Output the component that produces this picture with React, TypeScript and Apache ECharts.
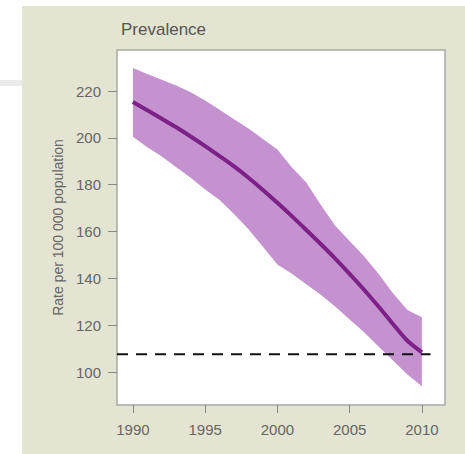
import React, { useEffect, useRef } from "react";
import * as echarts from "echarts";

// Prevalence per 100 000 population, 1990–2010
const years = [
  1990, 1991, 1992, 1993, 1994, 1995, 1996, 1997, 1998, 1999, 2000,
  2001, 2002, 2003, 2004, 2005, 2006, 2007, 2008, 2009, 2010,
];
const median = [
  215.3, 211.8, 208.2, 204.5, 200.6, 196.5, 192.2, 187.8, 183, 177.8, 172.3,
  166.6, 160.7, 154.7, 148.5, 142, 135.2, 128, 120.6, 113.4, 108.5,
];
const upper = [
  229.8, 227.3, 224.8, 222.3, 219.5, 216, 212, 208, 204, 199.5, 195,
  187.5, 181, 171.5, 162.5, 156, 149.5, 142, 133.7, 126.5, 123.4,
];
const lower = [
  200.5, 196, 192, 187.5, 183, 178, 173.5, 167.5, 161, 153.5, 146,
  142, 137.5, 133, 128, 122.5, 117, 111, 105, 99, 94,
];

// Target level shown as a dashed reference line
const targetValue = 107.7;
const targetYears = [1988.9, 2010.6];

const xTicks = [1990, 1995, 2000, 2005, 2010];
const yTicks = [100, 120, 140, 160, 180, 200, 220];

const X_MIN = 1988.9;
const X_MAX = 2011.6;
const Y_MIN = 86;
const Y_MAX = 237.5;

const FONT = "'Liberation Sans', Arial, sans-serif";
const BAND = "#c592d0";
const LINE = "#7d2189";

export default function App() {
  const ref = useRef<HTMLDivElement>(null);

  useEffect(() => {
    if (!ref.current) return;
    const chart = echarts.init(ref.current, null, { renderer: "svg" });

    const bandData = years.map((y, i) => [y, lower[i], upper[i]]);

    chart.setOption({
      animation: false,
      backgroundColor: "transparent",
      title: {
        text: "Prevalence",
        left: 116,
        top: 16,
        textStyle: {
          fontFamily: FONT,
          fontSize: 17,
          fontWeight: "normal",
          color: "#555",
        },
      },
      grid: {
        left: 117,
        right: 20,
        top: 50,
        bottom: 49,
        show: true,
        backgroundColor: "#ffffff",
        borderColor: "#a9a9a2",
        borderWidth: 1.5,
      },
      xAxis: {
        type: "value",
        min: X_MIN,
        max: X_MAX,
        axisLine: { show: false },
        splitLine: { show: false },
        axisTick: {
          show: true,
          inside: false,
          length: 8,
          customValues: xTicks,
          lineStyle: { color: "#888", width: 1 },
        },
        axisLabel: {
          customValues: xTicks,
          margin: 17,
          fontFamily: FONT,
          fontSize: 15,
          color: "#666",
          formatter: (v: number) => String(v),
        },
      },
      yAxis: {
        type: "value",
        min: Y_MIN,
        max: Y_MAX,
        name: "Rate per 100 000 population",
        nameLocation: "middle",
        nameGap: 52,
        nameRotate: 90,
        nameTextStyle: {
          fontFamily: FONT,
          fontSize: 14,
          color: "#666",
        },
        axisLine: { show: false },
        splitLine: { show: false },
        axisTick: {
          show: true,
          inside: false,
          length: 9,
          customValues: yTicks,
          lineStyle: { color: "#888", width: 1 },
        },
        axisLabel: {
          customValues: yTicks,
          margin: 16,
          fontFamily: FONT,
          fontSize: 15,
          color: "#666",
        },
      },
      series: [
        {
          type: "custom",
          name: "Uncertainty",
          data: bandData,
          encode: { x: 0, y: [1, 2] },
          z: 1,
          renderItem: (params: any, api: any) => {
            if (params.dataIndex !== 0) return null;
            const top = years.map((y, i) => api.coord([y, upper[i]]));
            const bottom = years
              .map((y, i) => api.coord([y, lower[i]]))
              .reverse();
            return {
              type: "polygon",
              shape: { points: top.concat(bottom) },
              style: { fill: BAND },
            };
          },
        },
        {
          type: "line",
          name: "Prevalence",
          data: years.map((y, i) => [y, median[i]]),
          showSymbol: false,
          smooth: 0.3,
          z: 3,
          lineStyle: { color: LINE, width: 4 },
        },
        {
          type: "line",
          name: "Target",
          data: targetYears.map((y) => [y, targetValue]),
          showSymbol: false,
          z: 4,
          lineStyle: { color: "#111", width: 2, type: [11, 8] },
        },
      ],
    });

    return () => chart.dispose();
  }, []);

  return (
    <div
      style={{
        position: "fixed",
        left: 0,
        top: 0,
        width: 465,
        height: 454,
        background: "#ffffff",
        overflow: "hidden",
      }}
    >
      <div
        style={{
          position: "absolute",
          left: 0,
          top: 80,
          width: 22,
          height: 6,
          background: "#ebebeb",
        }}
      />
      <div
        style={{
          position: "absolute",
          left: 22,
          top: 6,
          right: 0,
          bottom: 0,
          background: "#e3e4d1",
        }}
      />
      <div
        ref={ref}
        style={{ position: "absolute", left: 0, top: 0, width: 465, height: 454 }}
      />
    </div>
  );
}
